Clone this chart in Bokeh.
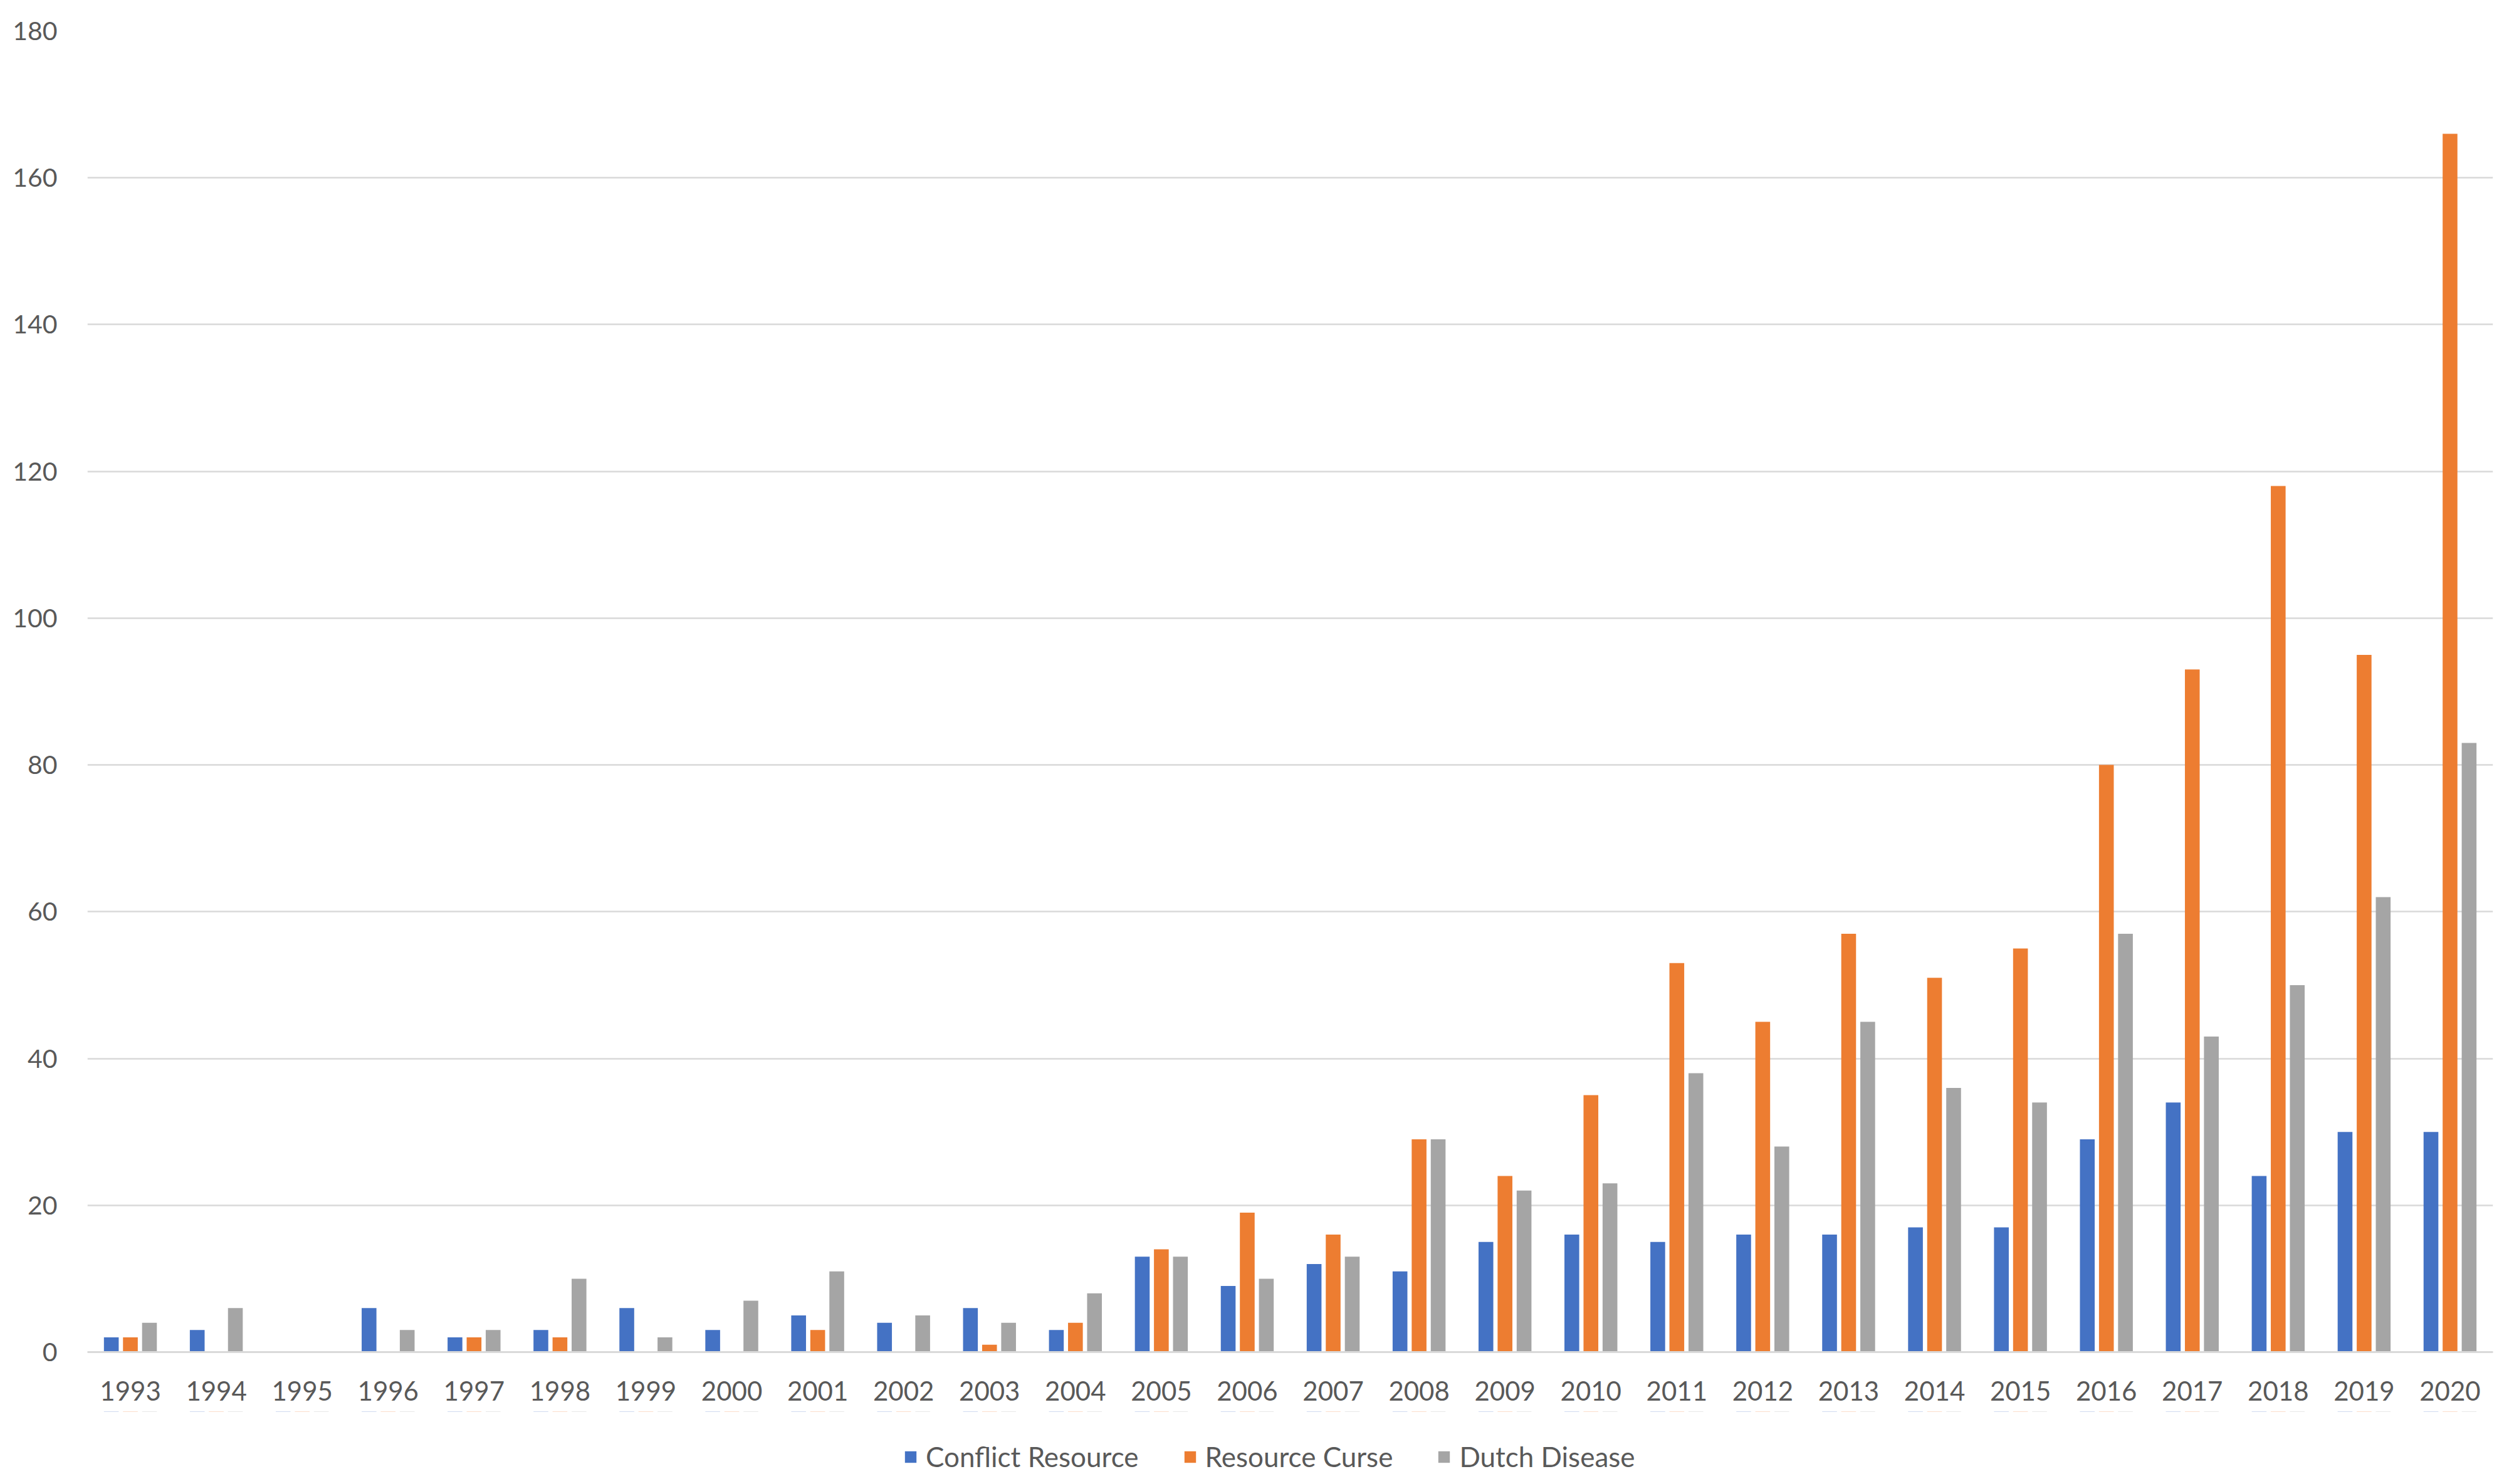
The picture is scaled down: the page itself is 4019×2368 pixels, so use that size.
from bokeh.plotting import figure
from bokeh.layouts import column
from bokeh.models import ColumnDataSource, FixedTicker, Legend, LegendItem, FactorRange, Range1d
from bokeh.transform import dodge
from bokeh.embed import file_html
from bokeh.resources import INLINE

years = [str(y) for y in range(1993, 2021)]
conflict_resource = [2, 3, 0, 6, 2, 3, 6, 3, 5, 4, 6, 3, 13, 9, 12, 11, 15, 16, 15, 16, 16, 17, 17, 29, 34, 24, 30, 30]
resource_curse = [2, 0, 0, 0, 2, 2, 0, 0, 3, 0, 1, 4, 14, 19, 16, 29, 24, 35, 53, 45, 57, 51, 55, 80, 93, 118, 95, 166]
dutch_disease = [4, 6, 0, 3, 3, 10, 2, 7, 11, 5, 4, 8, 13, 10, 13, 29, 22, 23, 38, 28, 45, 36, 34, 57, 43, 50, 62, 83]
series_names = ["Conflict Resource", "Resource Curse", "Dutch Disease"]
series_fields = ["cr", "rc", "dd"]
series_colors = ["#4472C4", "#ED7D31", "#A5A5A5"]
series_offsets = [-0.222, 0.0, 0.222]
y_ticks = list(range(0, 181, 20))

src = ColumnDataSource(dict(year=years, cr=conflict_resource, rc=resource_curse, dd=dutch_disease))

FONT = "Lato"
TXT = "#595959"

p = figure(x_range=FactorRange(*years), y_range=Range1d(0, 180),
           width=4000, height=2252, output_backend="svg", toolbar_location=None,
           min_border_left=139, min_border_right=23, min_border_top=49, min_border_bottom=95)
p.outline_line_color = None
p.background_fill_color = "white"
p.border_fill_color = "white"

bw = 0.172
for fld, col, off in zip(series_fields, series_colors, series_offsets):
    p.vbar(x=dodge("year", off, range=p.x_range), top=fld, width=bw, source=src,
           fill_color=col, line_color=None)

p.xgrid.grid_line_color = None
p.ygrid.grid_line_color = "#d9d9d9"
p.ygrid.grid_line_width = 2.5
p.yaxis.ticker = FixedTicker(ticks=y_ticks)

p.yaxis.axis_line_color = None
p.yaxis.major_tick_line_color = None
p.yaxis.minor_tick_line_color = None
p.yaxis.major_label_standoff = 42
p.yaxis.major_label_text_font = FONT
p.yaxis.major_label_text_font_size = "41px"
p.yaxis.major_label_text_color = TXT

p.xaxis.axis_line_color = "#d9d9d9"
p.xaxis.axis_line_width = 3
p.xaxis.major_tick_line_color = None
p.xaxis.minor_tick_line_color = None
p.xaxis.major_label_standoff = 40
p.xaxis.major_label_text_font = FONT
p.xaxis.major_label_text_font_size = "42px"
p.xaxis.major_label_text_color = TXT

# legend strip below the chart (its bars sit outside the visible y range)
p2 = figure(width=4000, height=105, x_range=p.x_range, y_range=Range1d(-20, -10),
            output_backend="svg", toolbar_location=None,
            x_axis_location=None, y_axis_location=None, min_border=0)
p2.outline_line_color = None
p2.xgrid.grid_line_color = None
p2.ygrid.grid_line_color = None
items = []
for name, fld, col, off in zip(series_names, series_fields, series_colors, series_offsets):
    r = p2.vbar(x=dodge("year", off, range=p.x_range), top=fld, bottom=0, width=bw, source=src,
                fill_color=col, line_color=None)
    items.append(LegendItem(label=name, renderers=[r], index=0))
legend = Legend(items=items, orientation="horizontal", location=(1302, 7),
                label_text_font=FONT, label_text_font_size="44px", label_text_color=TXT,
                glyph_width=23, glyph_height=23, label_standoff=13, spacing=70,
                border_line_color=None, background_fill_alpha=0, margin=0, padding=10)
p2.add_layout(legend, "center")

layout = column(p, p2, spacing=0)
open("out.html", "w").write(file_html(layout, INLINE))
